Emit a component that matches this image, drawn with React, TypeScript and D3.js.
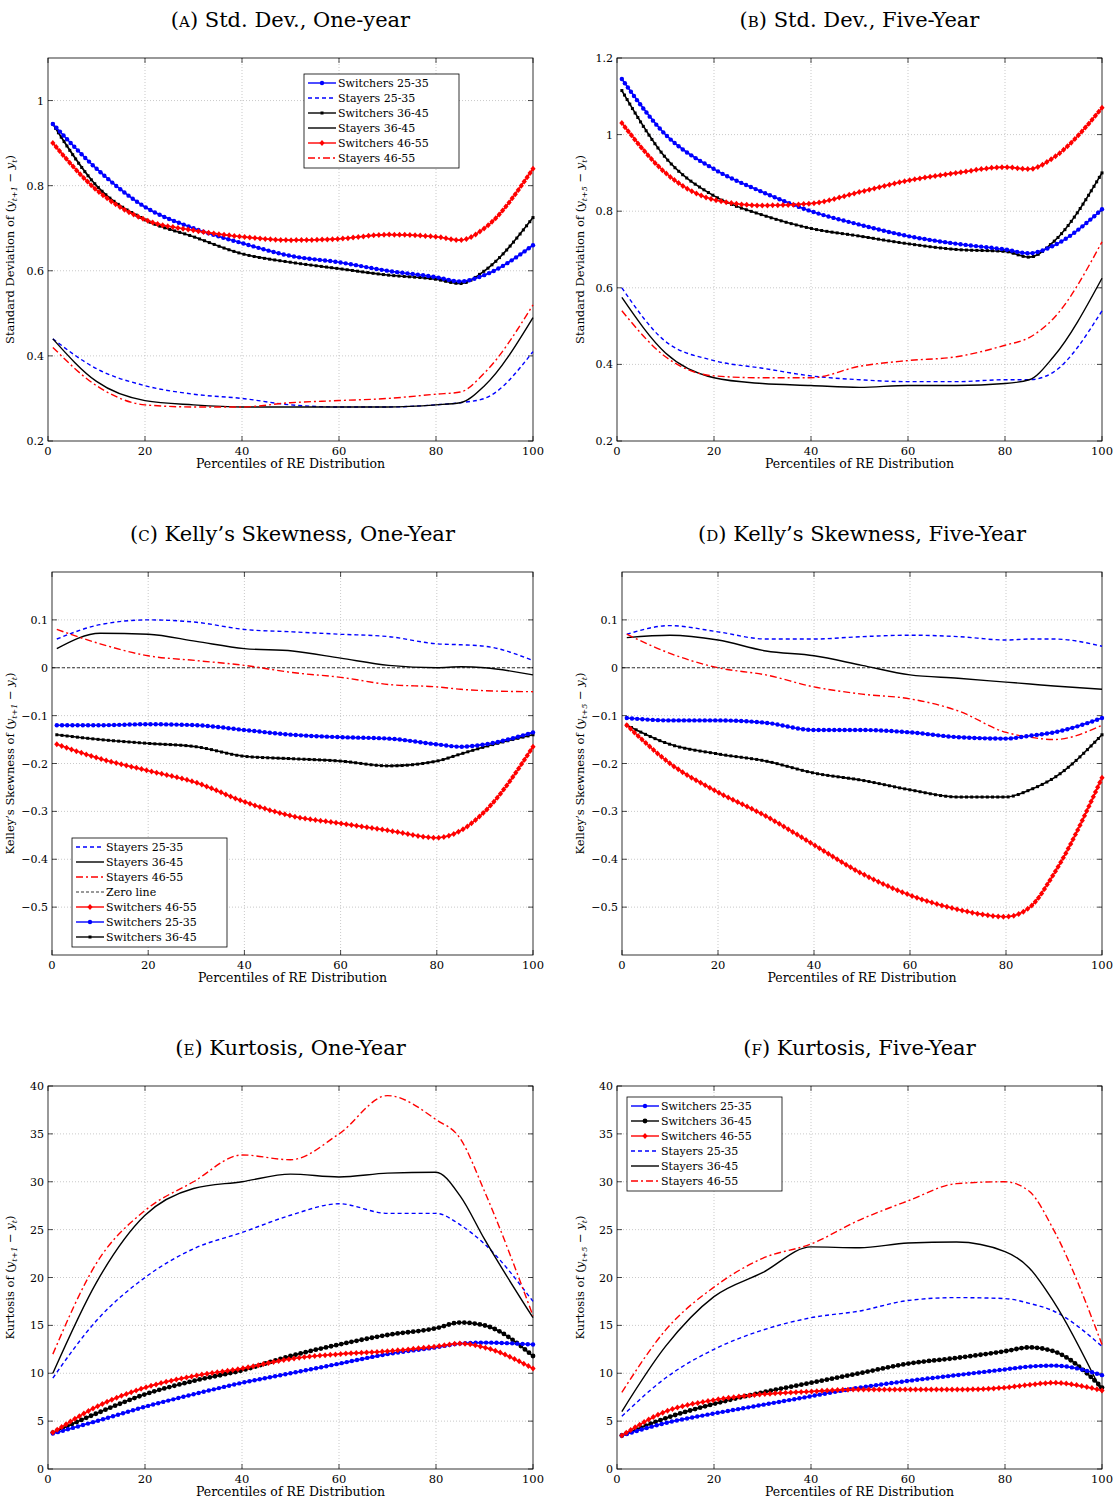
import { useEffect, useRef } from 'react';
import * as d3 from 'd3';

// percentiles at which the curves are read
const pA = [1, 10, 20, 30, 40, 50, 60, 70, 80, 85, 90, 100];
const aSw25 = [0.945, 0.84, 0.75, 0.70, 0.665, 0.635, 0.62, 0.60, 0.585, 0.575, 0.59, 0.66];
const aSt25 = [0.44, 0.37, 0.33, 0.31, 0.30, 0.285, 0.28, 0.28, 0.285, 0.29, 0.30, 0.41];
const aSw36 = [0.945, 0.80, 0.72, 0.68, 0.64, 0.62, 0.605, 0.59, 0.58, 0.57, 0.60, 0.725];
const aSt36 = [0.44, 0.34, 0.295, 0.285, 0.28, 0.28, 0.28, 0.28, 0.285, 0.29, 0.33, 0.49];
const aSw46 = [0.90, 0.79, 0.72, 0.695, 0.68, 0.672, 0.675, 0.685, 0.68, 0.672, 0.70, 0.84];
const aSt46 = [0.42, 0.33, 0.285, 0.28, 0.28, 0.29, 0.295, 0.30, 0.31, 0.315, 0.36, 0.52];

const bSw25 = [1.145, 1.0, 0.91, 0.85, 0.80, 0.765, 0.735, 0.715, 0.70, 0.69, 0.71, 0.805];
const bSt25 = [0.60, 0.46, 0.41, 0.39, 0.37, 0.36, 0.355, 0.355, 0.36, 0.36, 0.38, 0.54];
const bSw36 = [1.115, 0.94, 0.84, 0.79, 0.755, 0.735, 0.715, 0.70, 0.695, 0.68, 0.72, 0.90];
const bSt36 = [0.575, 0.43, 0.365, 0.35, 0.345, 0.34, 0.345, 0.345, 0.35, 0.36, 0.42, 0.625];
const bSw46 = [1.03, 0.90, 0.83, 0.815, 0.82, 0.85, 0.88, 0.90, 0.915, 0.91, 0.94, 1.07];
const bSt46 = [0.54, 0.42, 0.37, 0.365, 0.365, 0.395, 0.41, 0.42, 0.45, 0.47, 0.52, 0.72];

const pC = [1, 10, 20, 30, 40, 50, 60, 70, 80, 85, 90, 100];
const cSt25 = [0.06, 0.09, 0.10, 0.095, 0.08, 0.075, 0.07, 0.065, 0.05, 0.048, 0.045, 0.015];
const cSt36 = [0.04, 0.072, 0.07, 0.055, 0.04, 0.035, 0.02, 0.005, 0.0, 0.002, 0.0, -0.015];
const cSt46 = [0.08, 0.05, 0.025, 0.015, 0.005, -0.01, -0.02, -0.035, -0.04, -0.045, -0.048, -0.05];
const cSw46 = [-0.16, -0.19, -0.215, -0.24, -0.28, -0.31, -0.325, -0.34, -0.355, -0.34, -0.30, -0.165];
const cSw25 = [-0.12, -0.12, -0.118, -0.12, -0.13, -0.14, -0.145, -0.148, -0.16, -0.165, -0.16, -0.135];
const cSw36 = [-0.14, -0.15, -0.158, -0.165, -0.185, -0.19, -0.195, -0.205, -0.195, -0.18, -0.165, -0.14];

const dSt25 = [0.07, 0.088, 0.075, 0.06, 0.06, 0.065, 0.068, 0.065, 0.058, 0.06, 0.06, 0.045];
const dSt36 = [0.063, 0.068, 0.058, 0.035, 0.025, 0.005, -0.015, -0.022, -0.03, -0.034, -0.038, -0.045];
const dSt46 = [0.07, 0.03, 0.0, -0.015, -0.04, -0.055, -0.065, -0.09, -0.135, -0.145, -0.15, -0.12];
const dSw46 = [-0.12, -0.2, -0.26, -0.31, -0.37, -0.43, -0.475, -0.505, -0.52, -0.5, -0.43, -0.23];
const dSw25 = [-0.105, -0.11, -0.11, -0.115, -0.13, -0.13, -0.135, -0.145, -0.148, -0.142, -0.135, -0.105];
const dSw36 = [-0.12, -0.16, -0.18, -0.195, -0.22, -0.235, -0.255, -0.27, -0.27, -0.255, -0.23, -0.14];

const pE = [1, 10, 20, 30, 40, 50, 60, 70, 80, 85, 90, 100];
const eSw25 = [3.7, 5, 6.5, 7.8, 9, 10, 11, 12, 12.7, 13.1, 13.2, 13];
const eSt25 = [9.5, 15.5, 20, 23, 24.7, 26.5, 27.7, 26.7, 26.7, 25.5, 23.5, 17.5];
const eSw36 = [3.8, 5.8, 7.8, 9.2, 10.3, 11.8, 13, 14, 14.7, 15.3, 15, 11.8];
const eSt36 = [10, 19.5, 26.5, 29.3, 30, 30.8, 30.5, 30.9, 31.0, 28.5, 24, 15.8];
const eSw46 = [3.8, 6.5, 8.5, 9.7, 10.5, 11.5, 12, 12.3, 12.8, 13.1, 12.7, 10.5];
const eSt46 = [12, 21.5, 27, 30, 32.8, 32.3, 35, 39, 36.5, 34.5, 29, 16];

const fSw25 = [3.5, 4.8, 5.8, 6.7, 7.6, 8.5, 9.2, 9.8, 10.4, 10.7, 10.8, 9.8];
const fSt25 = [5.5, 9.5, 12.5, 14.5, 15.8, 16.5, 17.6, 17.9, 17.8, 17.3, 16.5, 12.8];
const fSw36 = [3.5, 5.3, 6.8, 8, 9, 10, 11, 11.6, 12.3, 12.7, 12.3, 8.5];
const fSt36 = [6, 12.8, 18, 20.5, 23.2, 23.1, 23.6, 23.7, 22.7, 21, 17.5, 8];
const fSw46 = [3.5, 6, 7.2, 7.8, 8.1, 8.3, 8.3, 8.3, 8.5, 8.8, 9, 8.2];
const fSt46 = [8, 14.5, 19, 22, 23.5, 26, 28, 29.8, 30, 29, 25, 13];

type S = { name: string; p: number[]; v: number[]; color: string; dash?: string; marker?: string };
const mk = (p: number[], sw25: number[], st25: number[], sw36: number[], st36: number[], sw46: number[], st46: number[], blackMarker = 'square'): Record<string, S> => ({
  sw25: { name: 'Switchers 25-35', p, v: sw25, color: 'blue', marker: 'circle' },
  st25: { name: 'Stayers 25-35', p, v: st25, color: 'blue', dash: '4,3' },
  sw36: { name: 'Switchers 36-45', p, v: sw36, color: 'black', marker: blackMarker },
  st36: { name: 'Stayers 36-45', p, v: st36, color: 'black' },
  sw46: { name: 'Switchers 46-55', p, v: sw46, color: 'red', marker: 'diamond' },
  st46: { name: 'Stayers 46-55', p, v: st46, color: 'red', dash: '7,3,2,3' },
});

const panels = [
  { title: 'a', rest: ') Std. Dev., One-year', x0: 48, x1: 533, y0: 58, y1: 441, dom: [0.2, 1.1], ticks: [0.2, 0.4, 0.6, 0.8, 1], ylab: ['Standard Deviation of (', 't+1', 't'], s: mk(pA, aSw25, aSt25, aSw36, aSt36, aSw46, aSt46), legend: { x: 304, y: 74, order: ['sw25', 'st25', 'sw36', 'st36', 'sw46', 'st46'] } },
  { title: 'b', rest: ') Std. Dev., Five-Year', x0: 617, x1: 1102, y0: 58, y1: 441, dom: [0.2, 1.2], ticks: [0.2, 0.4, 0.6, 0.8, 1, 1.2], ylab: ['Standard Deviation of (', 't+5', 't'], s: mk(pA, bSw25, bSt25, bSw36, bSt36, bSw46, bSt46) },
  { title: 'c', rest: ') Kelly\u2019s Skewness, One-Year', x0: 52, x1: 533, y0: 572, y1: 955, dom: [-0.6, 0.2], ticks: [-0.5, -0.4, -0.3, -0.2, -0.1, 0, 0.1], ylab: ['Kelley\u2019s Skewness of (', 't+1', 't'], zero: true, s: mk(pC, cSw25, cSt25, cSw36, cSt36, cSw46, cSt46), legend: { x: 72, y: 838, order: ['st25', 'st36', 'st46', 'zero', 'sw46', 'sw25', 'sw36'] } },
  { title: 'd', rest: ') Kelly\u2019s Skewness, Five-Year', x0: 622, x1: 1102, y0: 572, y1: 955, dom: [-0.6, 0.2], ticks: [-0.5, -0.4, -0.3, -0.2, -0.1, 0, 0.1], ylab: ['Kelley\u2019s Skewness of (', 't+5', 't'], zero: true, s: mk(pC, dSw25, dSt25, dSw36, dSt36, dSw46, dSt46) },
  { title: 'e', rest: ') Kurtosis, One-Year', x0: 48, x1: 533, y0: 1086, y1: 1469, dom: [0, 40], ticks: [0, 5, 10, 15, 20, 25, 30, 35, 40], ylab: ['Kurtosis of (', 't+1', 't'], s: mk(pE, eSw25, eSt25, eSw36, eSt36, eSw46, eSt46, 'circle') },
  { title: 'f', rest: ') Kurtosis, Five-Year', x0: 617, x1: 1102, y0: 1086, y1: 1469, dom: [0, 40], ticks: [0, 5, 10, 15, 20, 25, 30, 35, 40], ylab: ['Kurtosis of (', 't+5', 't'], s: mk(pE, fSw25, fSt25, fSw36, fSt36, fSw46, fSt46, 'circle'), legend: { x: 627, y: 1097, order: ['sw25', 'sw36', 'sw46', 'st25', 'st36', 'st46'] } },
];

const font = '"DejaVu Serif", "Liberation Serif", serif';

function drawMarker(g: any, kind: string, x: number, y: number, color: string, big = false) {
  if (kind === 'circle') {
    g.append('circle').attr('cx', x).attr('cy', y).attr('r', big ? 2.4 : 2.2).attr('fill', color);
  } else if (kind === 'square') {
    g.append('rect').attr('x', x - 1.5).attr('y', y - 1.5).attr('width', 3).attr('height', 3).attr('fill', color);
  } else if (kind === 'diamond') {
    g.append('path').attr('d', `M${x},${y - 3}L${x + 2.6},${y}L${x},${y + 3}L${x - 2.6},${y}Z`).attr('fill', color);
  }
}

export default function App() {
  const ref = useRef<SVGSVGElement>(null);
  useEffect(() => {
    const svg = d3.select(ref.current);
    svg.selectAll('*').remove();
    panels.forEach((P: any) => {
      const x = d3.scaleLinear().domain([0, 100]).range([P.x0, P.x1]);
      const y = d3.scaleLinear().domain(P.dom).range([P.y1, P.y0]);
      const g = svg.append('g');
      const cx = (P.x0 + P.x1) / 2;
      // title
      const t = g.append('text').attr('x', cx).attr('y', P.y0 - 31).attr('text-anchor', 'middle').attr('font-size', 21).attr('font-family', font);
      t.append('tspan').text('(');
      t.append('tspan').attr('font-size', 15).text(P.title.toUpperCase());
      t.append('tspan').text(P.rest);
      // grid
      x.ticks(5).forEach((v) => {
        if (v > 0 && v < 100) g.append('line').attr('x1', x(v)).attr('x2', x(v)).attr('y1', P.y0).attr('y2', P.y1).attr('stroke', '#bbb').attr('stroke-width', 0.8).attr('stroke-dasharray', '1,2');
      });
      P.ticks.forEach((v: number) => {
        if (y(v) > P.y0 + 1 && y(v) < P.y1 - 1) g.append('line').attr('x1', P.x0).attr('x2', P.x1).attr('y1', y(v)).attr('y2', y(v)).attr('stroke', '#bbb').attr('stroke-width', 0.8).attr('stroke-dasharray', '1,2');
      });
      // frame
      g.append('rect').attr('x', P.x0).attr('y', P.y0).attr('width', P.x1 - P.x0).attr('height', P.y1 - P.y0).attr('fill', 'none').attr('stroke', 'black').attr('stroke-width', 0.8);
      // ticks & labels
      x.ticks(5).forEach((v) => {
        g.append('line').attr('x1', x(v)).attr('x2', x(v)).attr('y1', P.y1).attr('y2', P.y1 - 5).attr('stroke', 'black').attr('stroke-width', 0.7);
        g.append('line').attr('x1', x(v)).attr('x2', x(v)).attr('y1', P.y0).attr('y2', P.y0 + 5).attr('stroke', 'black').attr('stroke-width', 0.7);
        g.append('text').attr('x', x(v)).attr('y', P.y1 + 14).attr('text-anchor', 'middle').attr('font-size', 11.5).attr('font-family', font).text(v);
      });
      P.ticks.forEach((v: number) => {
        g.append('line').attr('x1', P.x0).attr('x2', P.x0 + 5).attr('y1', y(v)).attr('y2', y(v)).attr('stroke', 'black').attr('stroke-width', 0.7);
        g.append('line').attr('x1', P.x1).attr('x2', P.x1 - 5).attr('y1', y(v)).attr('y2', y(v)).attr('stroke', 'black').attr('stroke-width', 0.7);
        const lab = v < 0 ? '\u2212' + String(-v) : String(v);
        g.append('text').attr('x', P.x0 - 4).attr('y', y(v) + 4).attr('text-anchor', 'end').attr('font-size', 11).attr('font-family', font).text(lab);
      });
      g.append('text').attr('x', cx).attr('y', P.y1 + 27).attr('text-anchor', 'middle').attr('font-size', 12.5).attr('font-family', font).text('Percentiles of RE Distribution');
      // y label
      const lx = P.x0 < 300 ? 14 : 584;
      const yl = g.append('text').attr('transform', `translate(${lx},${(P.y0 + P.y1) / 2}) rotate(-90)`).attr('text-anchor', 'middle').attr('font-size', 11.5).attr('font-family', font);
      yl.append('tspan').text(P.ylab[0]);
      yl.append('tspan').attr('font-style', 'italic').text('y');
      yl.append('tspan').attr('font-size', 8).attr('dy', 3).attr('font-style', 'italic').text(P.ylab[1]);
      yl.append('tspan').attr('dy', -3).text(' \u2212 ');
      yl.append('tspan').attr('font-style', 'italic').text('y');
      yl.append('tspan').attr('font-size', 8).attr('dy', 3).attr('font-style', 'italic').text(P.ylab[2]);
      yl.append('tspan').attr('dy', -3).text(')');
      if (P.zero) g.append('line').attr('x1', P.x0).attr('x2', P.x1).attr('y1', y(0)).attr('y2', y(0)).attr('stroke', 'black').attr('stroke-width', 0.8).attr('stroke-dasharray', '3,2');
      // series
      ['st25', 'st36', 'st46', 'sw36', 'sw25', 'sw46'].forEach((k) => {
        const s: S = P.s[k];
        const gen = d3.line<number>().x((_, i) => x(s.p[i])).y((d) => y(d)).curve(d3.curveMonotoneX);
        const path = g.append('path').attr('d', gen(s.v)).attr('fill', 'none').attr('stroke', s.color).attr('stroke-width', s.marker ? 1.6 : 1.4);
        if (s.dash) path.attr('stroke-dasharray', s.dash);
        if (s.marker) {
          const node = path.node() as SVGPathElement;
          const L = node.getTotalLength();
          const n = Math.round(L / 5.2);
          for (let i = 0; i <= n; i++) {
            const pt = node.getPointAtLength((L * i) / n);
            drawMarker(g, s.marker, pt.x, pt.y, s.color, P.title >= 'e' && s.color === 'black');
          }
        }
      });
      // legend
      if (P.legend) {
        const L = P.legend;
        const h = L.order.length * 15 + 4;
        const lg = g.append('g');
        lg.append('rect').attr('x', L.x).attr('y', L.y).attr('width', 155).attr('height', h).attr('fill', 'white').attr('stroke', 'black').attr('stroke-width', 0.8);
        L.order.forEach((k: string, i: number) => {
          const yy = L.y + 9 + i * 15;
          if (k === 'zero') {
            lg.append('line').attr('x1', L.x + 4).attr('x2', L.x + 32).attr('y1', yy).attr('y2', yy).attr('stroke', 'black').attr('stroke-width', 0.8).attr('stroke-dasharray', '3,2');
            lg.append('text').attr('x', L.x + 34).attr('y', yy + 4).attr('font-size', 11).attr('font-family', font).text('Zero line');
            return;
          }
          const s: S = P.s[k];
          const ln = lg.append('line').attr('x1', L.x + 4).attr('x2', L.x + 32).attr('y1', yy).attr('y2', yy).attr('stroke', s.color).attr('stroke-width', 1.4);
          if (s.dash) ln.attr('stroke-dasharray', s.dash);
          if (s.marker) drawMarker(lg, s.marker, L.x + 18, yy, s.color, s.marker === 'circle' && s.color === 'black');
          lg.append('text').attr('x', L.x + 34).attr('y', yy + 4).attr('font-size', 11).attr('font-family', font).text(s.name);
        });
      }
    });
  }, []);
  return <svg ref={ref} width={1117} height={1503} style={{ position: 'absolute', left: 0, top: 0, background: 'white' }} />;
}
